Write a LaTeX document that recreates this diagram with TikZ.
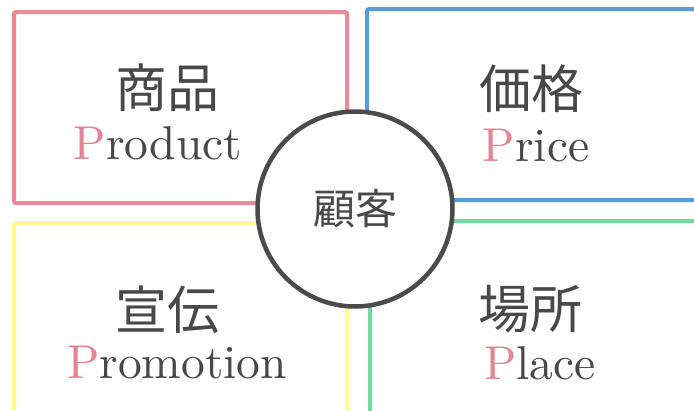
\documentclass[tikz,border=0pt]{standalone}
\usepackage{fontspec}
\usepackage{tikz}
\usetikzlibrary{positioning}
\newfontfamily\jpfont{Noto Sans CJK JP}
\newfontfamily\romanfont[Extension=.otf]{lmroman10-regular}
\definecolor{redP}{RGB}{238,136,150}
\definecolor{blueP}{RGB}{90,155,220}
\definecolor{yellowP}{RGB}{255,250,140}
\definecolor{greenP}{RGB}{120,215,160}
\definecolor{pinkP}{RGB}{228,132,148}
\definecolor{ink}{RGB}{72,72,72}
\definecolor{ring}{RGB}{75,75,75}

\begin{document}
\begin{tikzpicture}[x=1pt,y=-1pt,on grid,
   frame/.style={line width=4pt,rounded corners=2pt},
   kanji/.style={font=\jpfont\fontsize{52}{52}\selectfont,text=ink},
   roman/.style={font=\romanfont\fontsize{47.5}{48}\selectfont,text=ink},
   customer/.style={circle,draw=ring,fill=white,line width=4.5pt,minimum size=195pt,
                    inner sep=0pt,font=\jpfont\fontsize{42}{42}\selectfont,text=ink}]
   \useasboundingbox (0,0) rectangle (694,410);
   \clip (0,0) rectangle (694,410);
   % four frames
   \draw[frame,draw=redP]    (14,12)  rectangle (347,203);
   \draw[frame,draw=blueP]   (367,9)  rectangle (712,200);
   \draw[frame,draw=yellowP] (14,223) rectangle (347,430);
   \draw[frame,draw=greenP]  (370,221) rectangle (712,430);
   % labels
   \node[kanji] (shohin) at (167,88)  {商品};
   \node[roman] (product) [below left=55.5pt and 9pt of shohin] {\textcolor{pinkP}{P}roduct};
   \node[kanji] (kakaku) at (531,89)  {価格};
   \node[roman] (price) [below right=57pt and 5pt of kakaku] {\textcolor{pinkP}{P}rice};
   \node[kanji] (senden) at (167,310) {宣伝};
   \node[roman] (promotion) [below right=53pt and 10pt of senden] {\textcolor{pinkP}{P}romotion};
   \node[kanji] (basho) at (530,309)  {場所};
   \node[roman] (place) [below right=54.5pt and 10pt of basho] {\textcolor{pinkP}{P}lace};
   % centre
   \node[customer] (kokyaku) at (355,209) {顧客};
\end{tikzpicture}
\end{document}
